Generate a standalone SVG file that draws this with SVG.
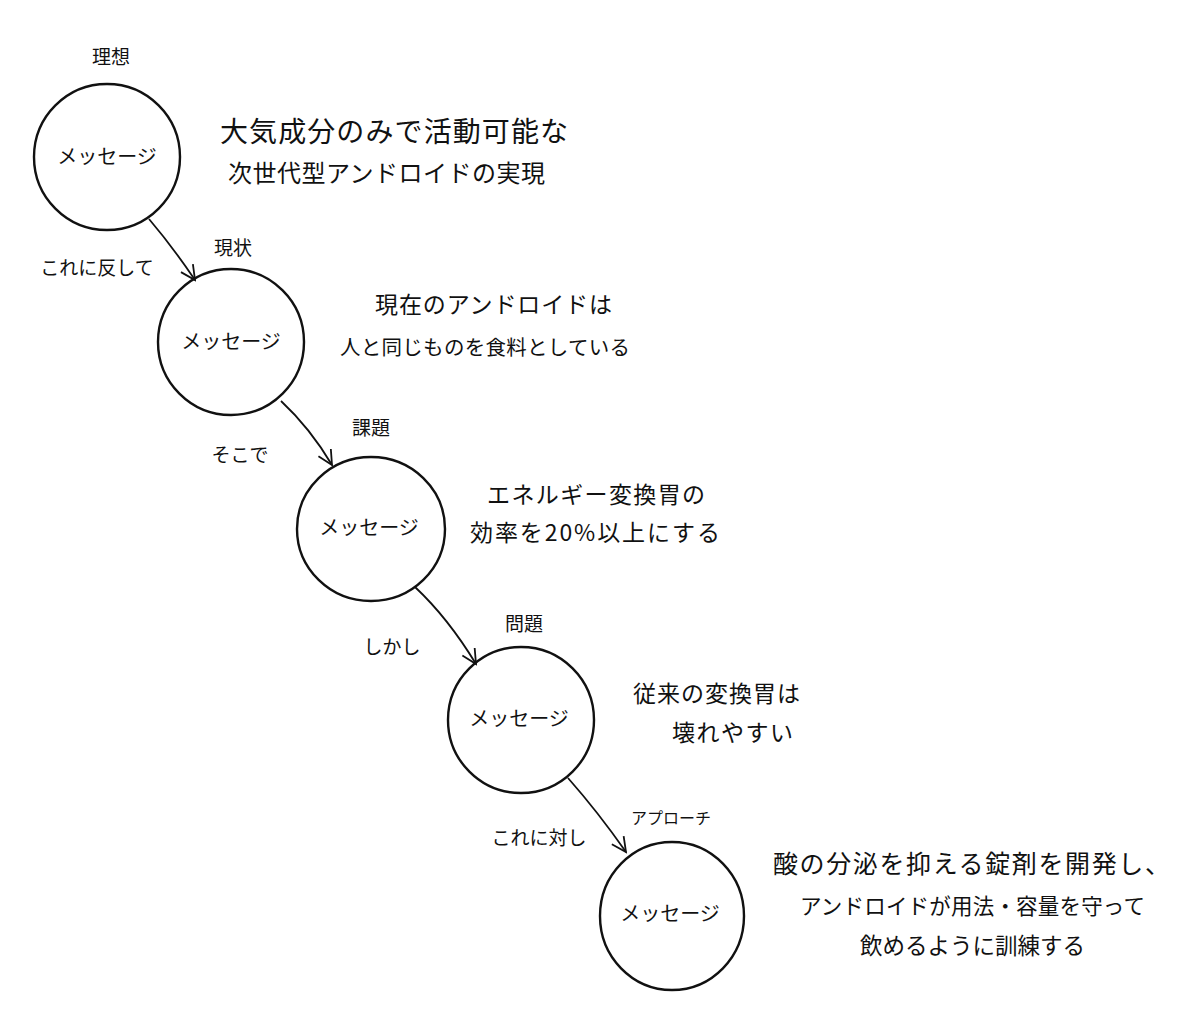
<svg xmlns="http://www.w3.org/2000/svg" width="1200" height="1035" viewBox="0 0 1200 1035">
<defs>
<style>
.n{fill:none;stroke:#111;stroke-width:2.4}
.c{fill:none;stroke:#111;stroke-width:1.8}
text{font-family:"Noto Sans CJK JP","Noto Sans CJK SC",sans-serif;fill:#111}
.m{font-size:20px;text-anchor:middle}
.l{font-size:19px;text-anchor:middle}
.d{font-size:26px}
</style>
<marker id="ah" viewBox="0 0 20 20" refX="18" refY="10" markerWidth="18" markerHeight="18" markerUnits="userSpaceOnUse" orient="auto">
<path d="M2,2 L18,10 L2,18" fill="none" stroke="#111" stroke-width="2"/>
</marker>
</defs>
<rect width="1200" height="1035" fill="#fff"/>
<g id="connectors">
<path class="c" d="M149,219 Q172,246 195,280" marker-end="url(#ah)"/>
<path class="c" d="M281,401 Q310,428 332,465" marker-end="url(#ah)"/>
<path class="c" d="M415,587 Q448,618 476,664" marker-end="url(#ah)"/>
<path class="c" d="M568,778 Q598,812 626,852" marker-end="url(#ah)"/>
</g>
<g id="node1">
<ellipse class="n" cx="107" cy="157" rx="73" ry="73"/>
<text class="m" x="107" y="164">メッセージ</text>
<text class="l" x="111" y="64">理想</text>
</g>
<g id="node2">
<ellipse class="n" cx="231" cy="342" rx="73" ry="73"/>
<text class="m" x="231" y="349">メッセージ</text>
<text class="l" x="233" y="255">現状</text>
<text class="l" x="97" y="275">これに反して</text>
</g>
<g id="node3">
<ellipse class="n" cx="371" cy="529" rx="74" ry="72"/>
<text class="m" x="369" y="535">メッセージ</text>
<text class="l" x="371" y="435">課題</text>
<text class="l" x="240" y="462">そこで</text>
</g>
<g id="node4">
<ellipse class="n" cx="521" cy="720" rx="73" ry="73"/>
<text class="m" x="519" y="726">メッセージ</text>
<text class="l" x="524" y="631">問題</text>
<text class="l" x="392" y="654">しかし</text>
</g>
<g id="node5">
<ellipse class="n" cx="672" cy="916" rx="72" ry="74"/>
<text class="m" x="670" y="921">メッセージ</text>
<text class="l" x="671" y="824" style="font-size:16px">アプローチ</text>
<text class="l" x="539" y="845">これに対し</text>
</g>
<g id="desc1">
<text class="d" x="220" y="142" textLength="348" lengthAdjust="spacing" style="font-size:28px">大気成分のみで活動可能な</text>
<text class="d" x="228" y="182" textLength="317" lengthAdjust="spacing" style="font-size:24px">次世代型アンドロイドの実現</text>
</g>
<g id="desc2">
<text class="d" x="375" y="313" textLength="237" lengthAdjust="spacing" style="font-size:23px">現在のアンドロイドは</text>
<text class="d" x="340" y="355" textLength="290" lengthAdjust="spacing" style="font-size:20.5px">人と同じものを食料としている</text>
</g>
<g id="desc3">
<text class="d" x="487" y="503" textLength="218" lengthAdjust="spacing" style="font-size:23px">エネルギー変換胃の</text>
<text class="d" x="470" y="541" textLength="250" lengthAdjust="spacing" style="font-size:23px">効率を20%以上にする</text>
</g>
<g id="desc4">
<text class="d" x="633" y="702" textLength="167" lengthAdjust="spacing" style="font-size:23px">従来の変換胃は</text>
<text class="d" x="672" y="741" textLength="121" lengthAdjust="spacing" style="font-size:23px">壊れやすい</text>
</g>
<g id="desc5">
<text class="d" x="773" y="873" textLength="397" lengthAdjust="spacing" style="font-size:25px">酸の分泌を抑える錠剤を開発し、</text>
<text class="d" x="800" y="914" textLength="345" lengthAdjust="spacing" style="font-size:21.5px">アンドロイドが用法・容量を守って</text>
<text class="d" x="860" y="954" textLength="225" lengthAdjust="spacing" style="font-size:22.5px">飲めるように訓練する</text>
</g>
</svg>
